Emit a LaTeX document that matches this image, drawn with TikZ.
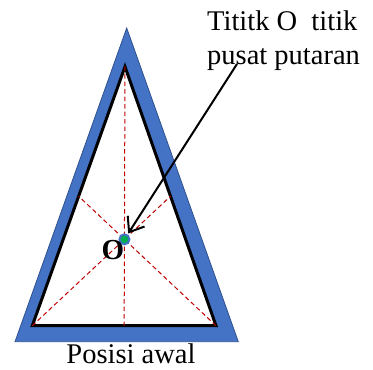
\documentclass[tikz,border=0pt]{standalone}
\usepackage{fontspec}
\setmainfont{Liberation Serif}
\usetikzlibrary{arrows.meta,calc}
\definecolor{triblue}{RGB}{68,114,196}
\definecolor{triedge}{RGB}{47,82,143}
\definecolor{mediared}{RGB}{192,0,0}
\definecolor{dotgreen}{RGB}{0,176,80}
\begin{document}
\begin{tikzpicture}[x=1pt,y=-1pt,
  median/.style={draw=mediared,dash pattern=on 4.5pt off 3pt,line width=1pt},
  txt/.style={font=\fontsize{28.5}{34}\selectfont,inner sep=0pt}]
\useasboundingbox (0,0) rectangle (373,370);
% blue frame
\coordinate (P) at (126.7,28);
\coordinate (Q) at (15,341.7);
\coordinate (R) at (238.3,341.7);
\fill[triblue,draw=triedge,line width=0.8pt] (P)--(Q)--(R)--cycle;
% triangle at start position
\coordinate (A) at (125,66.7);
\coordinate (B) at (32.3,325.7);
\coordinate (C) at (216,325.7);
\draw[fill=white,line width=3pt] (A)--(B)--(C)--cycle;
\coordinate (mBC) at ($(B)!0.5!(C)$);
\coordinate (mCA) at ($(C)!0.5!(A)$);
\coordinate (mAB) at ($(A)!0.5!(B)$);
\draw[median] (A) -- (mBC);
\draw[median] (B) -- (mCA);
\draw[median] (C) -- (mAB);
\node[circle,fill=dotgreen,draw=triblue,line width=2pt,inner sep=0pt,minimum size=10pt] (O) at ($(A)!2/3!(mBC)$) {};
\node[txt,font=\fontsize{29}{34}\selectfont\bfseries] (Olabel) at (113,250) {O};
% caption and arrow
\node[txt,anchor=north west,align=left] (caption) at (207,11) {Tititk O\ \ titik\\pusat putaran};
\coordinate (tail) at (237,64);
\draw[line width=2pt,-{Straight Barb[length=13pt,width=20pt]},shorten >=1pt] (tail) -- (O);
\node[txt,anchor=base] (title) at (131,363) {Posisi awal};
\end{tikzpicture}
\end{document}
